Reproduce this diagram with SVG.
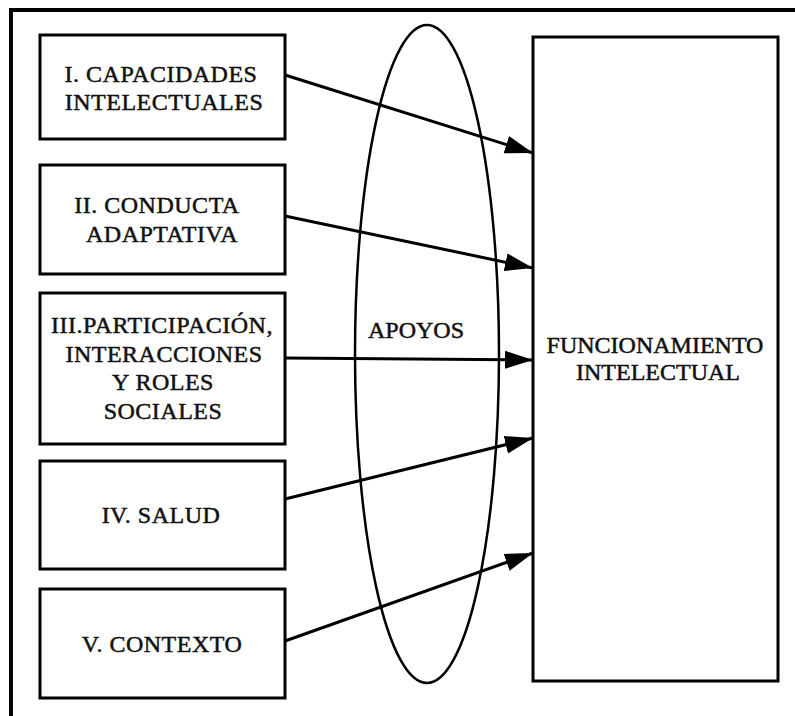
<svg xmlns="http://www.w3.org/2000/svg" width="795" height="716" viewBox="0 0 795 716">
<style>
.box{fill:#fff;stroke:#000;stroke-width:3}
.c{stroke:#000;stroke-width:3;fill:none}
.l text{letter-spacing:0.5px}
</style>
<defs>
<marker id="ah" markerUnits="userSpaceOnUse" markerWidth="30" markerHeight="20" refX="28" refY="9" orient="auto" viewBox="0 0 30 18">
<path d="M0,0 L28,9 L0,18 Z" fill="#000"/>
</marker>
</defs>
<rect width="795" height="716" fill="#fff"/>
<g id="frame">
<path d="M11,716 L11,10 L795,10" fill="none" stroke="#000" stroke-width="4"/>
</g>
<g font-family="'Liberation Serif', 'Times New Roman', serif" font-size="24" fill="#111" text-anchor="middle">
<g id="apoyos">
<ellipse cx="427" cy="354" rx="72" ry="329" fill="none" stroke="#000" stroke-width="2.5"/>
<text x="416" y="338" stroke="#111" stroke-width="0.5">APOYOS</text>
</g>
<g stroke-width="0.5">
<g id="n1" class="l"><rect class="box" x="40" y="35" width="245" height="104"/>
<text stroke="#111" x="161" y="82">I. CAPACIDADES</text><text stroke="#111" x="164" y="110">INTELECTUALES</text></g>
<g id="n2" class="l"><rect class="box" x="40" y="165" width="245" height="109"/>
<text stroke="#111" x="157" y="213">II. CONDUCTA</text><text stroke="#111" x="162" y="242">ADAPTATIVA</text></g>
<g id="n3" class="l"><rect class="box" x="40" y="293" width="245" height="151"/>
<text stroke="#111" x="162" y="333">III.PARTICIPACIÓN,</text><text stroke="#111" x="164" y="362">INTERACCIONES</text><text stroke="#111" x="163" y="390">Y ROLES</text><text stroke="#111" x="163" y="419">SOCIALES</text></g>
<g id="n4" class="l"><rect class="box" x="40" y="461" width="245" height="108"/>
<text stroke="#111" x="161" y="523">IV. SALUD</text></g>
<g id="n5" class="l"><rect class="box" x="40" y="589" width="245" height="109"/>
<text stroke="#111" x="162" y="652">V. CONTEXTO</text></g>
<g id="n6"><rect class="box" x="533" y="37" width="245" height="644"/>
<text stroke="#111" x="655" y="353">FUNCIONAMIENTO</text><text stroke="#111" x="658" y="380">INTELECTUAL</text></g>
</g>
</g>
<g id="connectors">
<line class="c" x1="285" y1="75" x2="533" y2="153" marker-end="url(#ah)"/>
<line class="c" x1="285" y1="216" x2="533" y2="268" marker-end="url(#ah)"/>
<line class="c" x1="285" y1="358" x2="533" y2="360" marker-end="url(#ah)"/>
<line class="c" x1="285" y1="499" x2="533" y2="438" marker-end="url(#ah)"/>
<line class="c" x1="285" y1="641" x2="533" y2="553" marker-end="url(#ah)"/>
</g>
</svg>
